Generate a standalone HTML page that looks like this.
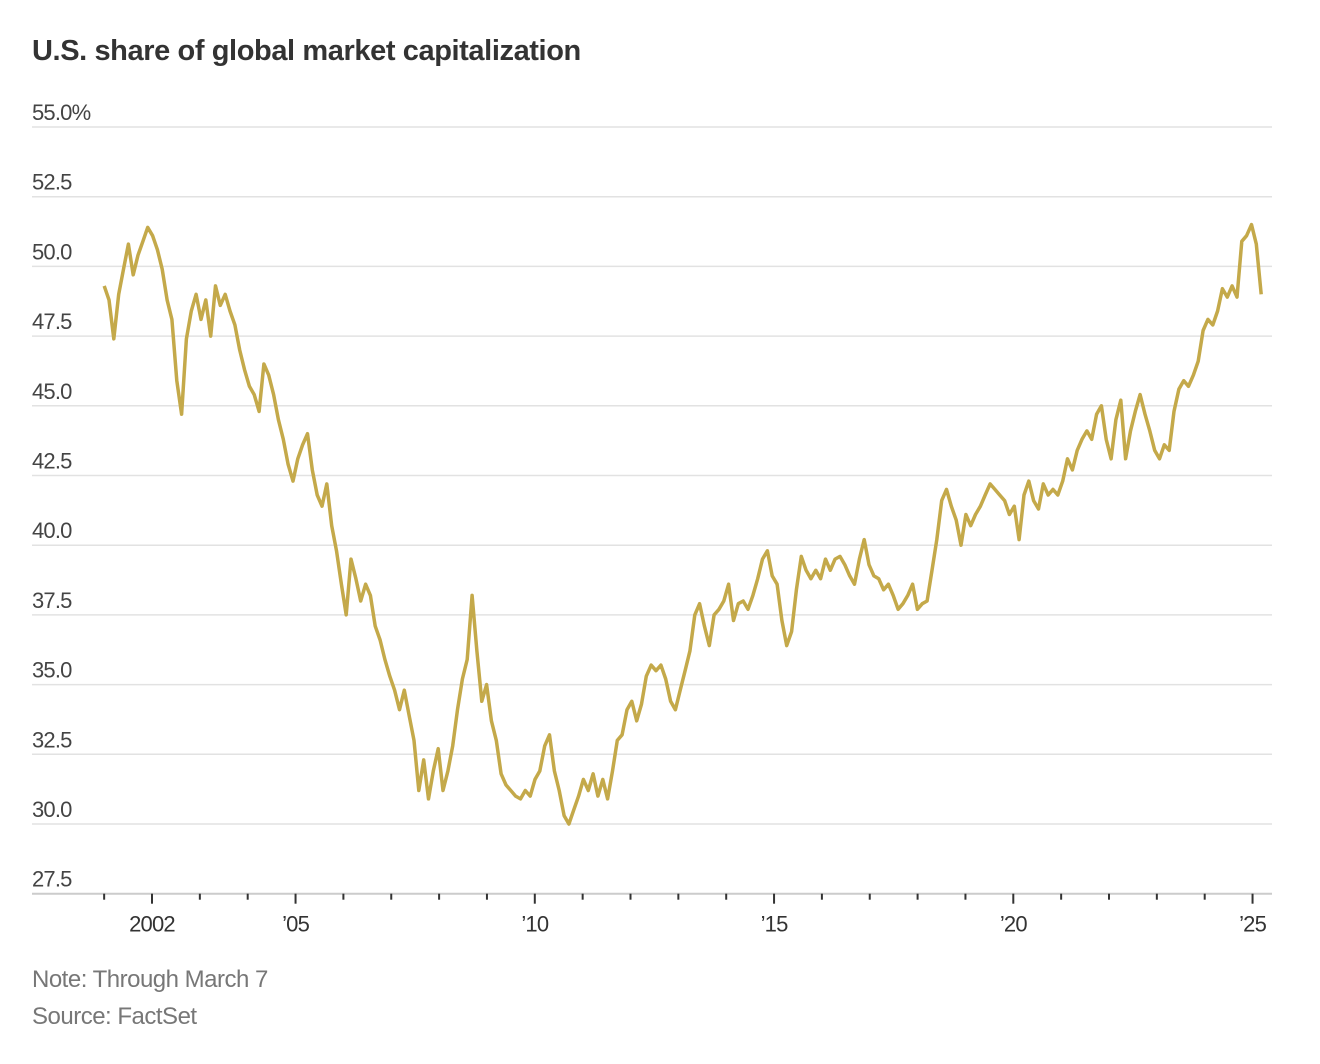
<!DOCTYPE html>
<html><head><meta charset="utf-8">
<style>
html,body{margin:0;padding:0;background:#fff;width:1320px;height:1064px;overflow:hidden}
svg text{font-family:"Liberation Sans",sans-serif}
</style></head>
<body>
<svg id="chart" width="1320" height="1064" viewBox="0 0 1320 1064" xmlns="http://www.w3.org/2000/svg">
<text x="32" y="60" font-size="29" font-weight="bold" fill="#333" letter-spacing="-0.4">U.S. share of global market capitalization</text>
<g id="grid"></g>
<g id="yl"></g>
<g id="xa"></g>
<path id="line" fill="none" stroke="#c4a94a" stroke-width="3.5" stroke-linejoin="round"/>
<text x="32" y="987" font-size="24" fill="#777" letter-spacing="-0.5">Note: Through March 7</text>
<text x="32" y="1024" font-size="24" fill="#777" letter-spacing="-0.5">Source: FactSet</text>
</svg>
<script>
const yTicks=[27.5,30,32.5,35,37.5,40,42.5,45,47.5,50,52.5,55];
const yTickLabels=["27.5","30.0","32.5","35.0","37.5","40.0","42.5","45.0","47.5","50.0","52.5","55.0%"];
const xYears=[2001,2002,2003,2004,2005,2006,2007,2008,2009,2010,2011,2012,2013,2014,2015,2016,2017,2018,2019,2020,2021,2022,2023,2024,2025];
const xLabelYears=[2002,2005,2010,2015,2020,2025];
const xLabels=["2002","\u201905","\u201910","\u201915","\u201920","\u201925"];
const startYear=2001.0, endYear=2025.18;
const values=[49.3,48.8,47.4,49,49.9,50.8,49.7,50.4,50.9,51.4,51.1,50.6,49.9,48.8,48.1,45.9,44.7,47.4,48.4,49,48.1,48.8,47.5,49.3,48.6,49,48.4,47.9,47,46.3,45.7,45.4,44.8,46.5,46.1,45.4,44.5,43.8,42.9,42.3,43.1,43.6,44,42.7,41.8,41.4,42.2,40.7,39.8,38.6,37.5,39.5,38.8,38,38.6,38.2,37.1,36.6,35.9,35.3,34.8,34.1,34.8,33.9,33,31.2,32.3,30.9,31.9,32.7,31.2,31.9,32.8,34.1,35.2,35.9,38.2,36.2,34.4,35,33.7,33,31.8,31.4,31.2,31,30.9,31.2,31,31.6,31.9,32.8,33.2,31.9,31.2,30.3,30,30.5,31,31.6,31.2,31.8,31,31.6,30.9,31.9,33,33.2,34.1,34.4,33.7,34.3,35.3,35.7,35.5,35.7,35.2,34.4,34.1,34.8,35.5,36.2,37.5,37.9,37.1,36.4,37.5,37.7,38,38.6,37.3,37.9,38,37.7,38.2,38.8,39.5,39.8,38.9,38.6,37.3,36.4,36.9,38.4,39.6,39.1,38.8,39.1,38.8,39.5,39.1,39.5,39.6,39.3,38.9,38.6,39.5,40.2,39.3,38.9,38.8,38.4,38.6,38.2,37.7,37.9,38.2,38.6,37.7,37.9,38,39.1,40.2,41.6,42,41.4,40.9,40,41.1,40.7,41.1,41.4,41.8,42.2,42,41.8,41.6,41.1,41.4,40.2,41.8,42.3,41.6,41.3,42.2,41.8,42,41.8,42.3,43.1,42.7,43.4,43.8,44.1,43.8,44.7,45,43.8,43.1,44.5,45.2,43.1,44.1,44.8,45.4,44.7,44.1,43.4,43.1,43.6,43.4,44.8,45.6,45.9,45.7,46.1,46.6,47.7,48.1,47.9,48.4,49.2,48.9,49.3,48.9,50.9,51.1,51.5,50.8,49];

const X0=32,X1=1272;
function xs(yr){return 56.3+(yr-2000)*47.85;}
function ys(v){return 824-(v-30)*27.88;}
const NS="http://www.w3.org/2000/svg";
const grid=document.getElementById('grid'),yl=document.getElementById('yl'),xa=document.getElementById('xa');
yTicks.forEach((t,i)=>{
  const y=ys(t);
  const l=document.createElementNS(NS,'line');
  
  
  l.setAttribute('x1',X0);l.setAttribute('x2',X1);l.setAttribute('y1',y);l.setAttribute('y2',y);
  l.setAttribute('stroke',i===0?'#ccc':'#e2e2e2');l.setAttribute('stroke-width',i===0?2:1.5);
  grid.appendChild(l);
  const tx=document.createElementNS(NS,'text');
  
  
  tx.setAttribute('x',X0);tx.setAttribute('y',y-7);tx.setAttribute('font-size','22');tx.setAttribute('fill','#444');tx.setAttribute('letter-spacing','-0.8');
  tx.textContent=yTickLabels[i];
  yl.appendChild(tx);
});
const yb=ys(27.5);
xYears.forEach(yr=>{
  const major=xLabelYears.indexOf(yr)>=0;
  const l=document.createElementNS(NS,'line');
  
  
  const x=xs(yr);
  l.setAttribute('x1',x);l.setAttribute('x2',x);l.setAttribute('y1',yb);l.setAttribute('y2',yb+(major?10:6));
  l.setAttribute('stroke','#333');l.setAttribute('stroke-width',2);
  xa.appendChild(l);
});
xLabelYears.forEach((yr,i)=>{
  const tx=document.createElementNS(NS,'text');
  
  
  tx.setAttribute('x',xs(yr));tx.setAttribute('y',yb+38);tx.setAttribute('text-anchor','middle');
  tx.setAttribute('font-size','22');tx.setAttribute('fill','#333');tx.setAttribute('letter-spacing','-0.8');
  tx.textContent=xLabels[i];
  xa.appendChild(tx);
});
const n=values.length;
let d='';
values.forEach((v,i)=>{
  const yr=startYear+i*(endYear-startYear)/(n-1);
  d+=(i?'L':'M')+xs(yr).toFixed(1)+','+ys(v).toFixed(1);
});
document.getElementById('line').setAttribute('d',d);
</script>
</body></html>
